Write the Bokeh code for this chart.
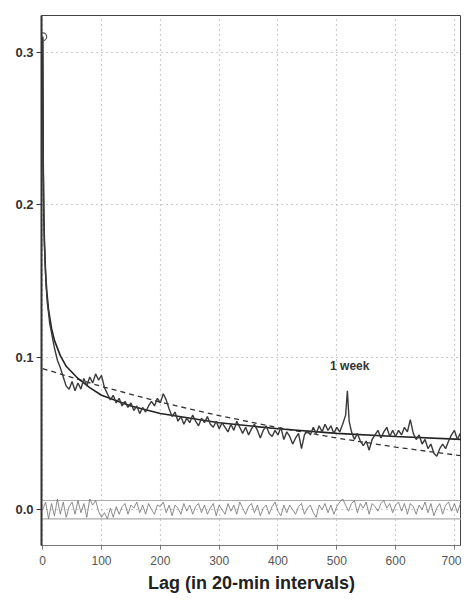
from bokeh.plotting import figure
from bokeh.models import Range1d, FixedTicker, CustomJSTickFormatter
from bokeh.core.properties import value
from bokeh.embed import file_html
from bokeh.resources import INLINE

# Sample ACF of the series (lag, value)
acf_lag = [0, 1, 2, 3, 4, 5, 6, 8, 10, 12, 15, 18, 20,
           25, 30, 35, 40, 45, 50, 55, 60, 65, 70, 75, 80, 85, 90, 95, 100,
           105, 110, 115, 120, 125, 130, 135, 140, 145, 150, 155, 160, 165, 170, 175, 180,
           185, 190, 195, 200, 205, 210, 215, 220, 225, 230, 235, 240, 245, 250,
           255, 260, 265, 270, 275, 280, 285, 290, 295, 300, 305, 310, 315, 320,
           325, 330, 335, 340, 345, 350, 355, 360, 365, 370, 375, 380, 385, 390,
           395, 400, 405, 410, 415, 420, 425, 430, 435, 440, 445, 450, 455, 460,
           465, 470, 475, 480, 485, 490, 495, 500, 505, 510, 515, 518, 521, 525,
           530, 535, 540, 545, 550, 555, 560, 565, 570, 575, 580, 585, 590, 595,
           600, 605, 610, 615, 620, 625, 630, 635, 640, 645, 650, 655, 660, 665,
           670, 675, 680, 685, 690, 695, 700, 705, 710, 715]
acf_val = [0.310, 0.224, 0.191, 0.174, 0.163, 0.154, 0.146, 0.135, 0.129, 0.122, 0.116, 0.110, 0.106,
           0.098, 0.093, 0.087, 0.081, 0.079, 0.084, 0.078, 0.083, 0.079, 0.086, 0.081, 0.087, 0.083, 0.089, 0.085, 0.088,
           0.080, 0.076, 0.072, 0.075, 0.070, 0.073, 0.068, 0.071, 0.067, 0.070, 0.065, 0.068, 0.063, 0.067, 0.064, 0.068,
           0.071, 0.068, 0.073, 0.070, 0.076, 0.072, 0.066, 0.061, 0.064, 0.058, 0.061, 0.056, 0.060, 0.057,
           0.062, 0.058, 0.055, 0.060, 0.057, 0.061, 0.056, 0.054, 0.058, 0.053, 0.057, 0.054, 0.051, 0.056,
           0.052, 0.058, 0.054, 0.050, 0.054, 0.049, 0.053, 0.056, 0.052, 0.047, 0.052, 0.055, 0.050, 0.048,
           0.052, 0.049, 0.054, 0.046, 0.051, 0.048, 0.043, 0.047, 0.050, 0.040, 0.049, 0.052, 0.049, 0.054,
           0.050, 0.055, 0.051, 0.056, 0.052, 0.055, 0.050, 0.054, 0.051, 0.056, 0.062, 0.078, 0.058, 0.051,
           0.046, 0.050, 0.045, 0.042, 0.045, 0.039, 0.046, 0.049, 0.052, 0.047, 0.051, 0.054, 0.048, 0.052,
           0.048, 0.052, 0.049, 0.054, 0.051, 0.059, 0.050, 0.046, 0.049, 0.043, 0.046, 0.040, 0.043, 0.037,
           0.035, 0.040, 0.043, 0.040, 0.045, 0.049, 0.052, 0.046, 0.050, 0.045]

# Fitted hyperbolic (long-memory) decay
fit_lag = [0, 1, 2, 3, 5, 7, 10, 15, 20, 30, 40, 60, 80, 100, 150, 200, 300, 400, 500, 600, 715]
fit_val = [0.310, 0.225, 0.192, 0.175, 0.155, 0.143, 0.131, 0.119, 0.111, 0.101, 0.094, 0.086, 0.080,
           0.075, 0.068, 0.063, 0.057, 0.053, 0.050, 0.048, 0.046]

# Fitted exponential (short-memory) decay
exp_lag = [0, 100, 200, 300, 400, 500, 600, 715]
exp_val = [0.0925, 0.0808, 0.0705, 0.0616, 0.0538, 0.0470, 0.0410, 0.0352]

# Residual ACF near zero
res_lag = list(range(0, 720, 5))
res_val = [0.000, 0.005, -0.006, 0.004, -0.004, 0.007, -0.003, 0.005, -0.005, 0.002,
           0.005, -0.003, 0.006, -0.002, 0.004, -0.005, 0.007, 0.003, 0.006, -0.001,
           -0.005, -0.002, -0.006, 0.001, -0.005, 0.002, -0.003, 0.002, 0.004, -0.003,
           0.003, 0.001, 0.005, -0.002, 0.003, -0.003, 0.004, 0.000, -0.003, 0.003,
           0.002, 0.005, -0.002, 0.003, -0.004, 0.003, 0.001, -0.003, 0.004, -0.001,
           0.003, -0.003, 0.002, 0.004, -0.002, 0.003, -0.003, 0.001, 0.004, -0.004,
           0.003, 0.000, -0.003, 0.004, -0.001, 0.003, -0.003, 0.005, 0.001, -0.003,
           0.002, 0.004, -0.002, 0.003, -0.004, 0.001, 0.003, -0.003, 0.002, 0.005,
           -0.001, -0.004, 0.003, -0.002, 0.003, 0.000, -0.003, 0.002, 0.004, -0.003,
           0.001, 0.003, -0.002, -0.005, 0.003, 0.000, 0.004, -0.002, 0.003, -0.003,
           0.002, 0.005, 0.007, 0.003, -0.001, 0.004, 0.006, -0.002, 0.004, 0.001,
           0.005, -0.003, 0.004, 0.002, -0.001, 0.004, 0.006, 0.001, 0.004, -0.002,
           0.003, 0.005, -0.001, 0.004, -0.003, 0.004, 0.002, -0.003, 0.003, 0.000,
           0.005, -0.002, 0.004, -0.004, 0.001, 0.004, -0.003, 0.003, 0.005, -0.001,
           0.004, -0.002, 0.004, 0.001]

band = [-0.006, 0.006]
x_ticks = [0, 100, 200, 300, 400, 500, 600, 700]
y_ticks = [0.0, 0.1, 0.2, 0.3]
note_text = ["1 week"]
note_lag = [522]
note_y = [0.094]

p = figure(width=461, height=595, output_backend="svg", toolbar_location=None,
           x_range=Range1d(-2, 712), y_range=Range1d(-0.0235, 0.324),
           min_border_left=41, min_border_top=15, min_border_right=0, min_border_bottom=10)

p.background_fill_color = "white"
p.border_fill_color = "white"
p.outline_line_color = "#444444"
p.outline_line_width = 1

# grid
p.xgrid.ticker = FixedTicker(ticks=x_ticks)
p.ygrid.ticker = FixedTicker(ticks=y_ticks)
for g in (p.xgrid, p.ygrid):
    g.grid_line_color = "#9a9a9a"
    g.grid_line_dash = "1 4"
    g.grid_line_width = 1.2

# axes
p.xaxis.ticker = FixedTicker(ticks=x_ticks)
p.yaxis.ticker = FixedTicker(ticks=y_ticks)
p.yaxis.formatter = CustomJSTickFormatter(code="return tick.toFixed(1);")
p.xaxis.axis_label = "Lag (in 20-min intervals)"
p.xaxis.axis_label_text_font = "Liberation Sans"
p.xaxis.axis_label_text_font_style = "bold"
p.xaxis.axis_label_text_font_size = "18px"
p.xaxis.axis_label_text_color = "#222222"
p.xaxis.axis_label_standoff = 5
p.xaxis.major_label_text_font = "Liberation Sans"
p.xaxis.major_label_text_font_size = "12px"
p.xaxis.major_label_text_color = "#555555"
p.xaxis.major_label_standoff = 6
p.xaxis.axis_line_color = "#777777"
p.xaxis.major_tick_line_color = "#777777"
p.xaxis.major_tick_out = 4
p.xaxis.major_tick_in = 0
p.xaxis.minor_tick_line_color = None

p.yaxis.major_label_text_font = "Liberation Sans"
p.yaxis.major_label_text_font_style = "bold"
p.yaxis.major_label_text_font_size = "13px"
p.yaxis.major_label_text_color = "#333333"
p.yaxis.major_label_standoff = 3
p.yaxis.axis_line_color = "#333333"
p.yaxis.axis_line_width = 2
p.yaxis.major_tick_line_color = "#333333"
p.yaxis.major_tick_out = 5
p.yaxis.major_tick_in = 0
p.yaxis.minor_tick_line_color = None

# residual band and residual ACF
for b in band:
    p.line(x=[res_lag[0], 712], y=[b, b], line_color="#aaaaaa", line_width=1.2)
p.line(x=res_lag, y=res_val, line_color="#707070", line_width=0.8)

# fits
p.line(x=exp_lag, y=exp_val, line_color="#333333", line_width=1.3, line_dash="5 4")
p.line(x=fit_lag, y=fit_val, line_color="#222222", line_width=1.6)

# sample ACF
p.line(x=acf_lag, y=acf_val, line_color="#3a3a3a", line_width=1.4)
p.scatter(x=[acf_lag[0]], y=[acf_val[0]], marker="circle", size=8,
          fill_color=None, line_color="#555555", line_width=1.2)

p.text(x=note_lag, y=note_y, text=note_text, text_align="center", text_baseline="middle",
       text_font=value("Liberation Sans"), text_font_style="bold", text_font_size="12px",
       text_color="#333333")

open("out.html", "w").write(file_html(p, INLINE))
